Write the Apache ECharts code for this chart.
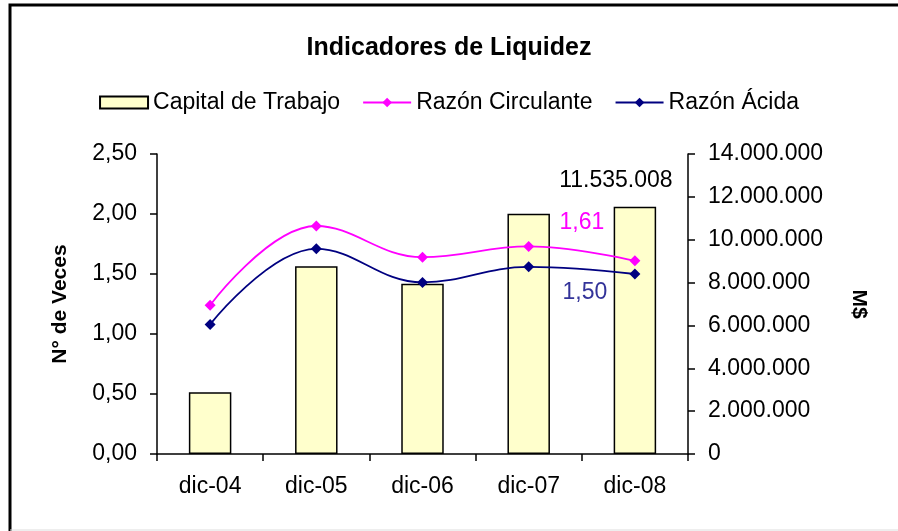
<!DOCTYPE html>
<html>
<head>
<meta charset="utf-8">
<script src="https://cdn.jsdelivr.net/npm/echarts@6/dist/echarts.min.js"></script>
<style>
  html, body { margin: 0; padding: 0; background: #fff; }
  #main { width: 898px; height: 531px; }
</style>
</head>
<body>
<div id="main"></div>
<script>
// datos del grafico
const periodos = ['dic-04', 'dic-05', 'dic-06', 'dic-07', 'dic-08'];
const capitalTrabajo = [2880000, 8760000, 7950000, 11210000, 11535008];
const razonCirculante = [1.24, 1.90, 1.64, 1.73, 1.61];
const razonAcida = [1.08, 1.71, 1.43, 1.56, 1.50];
const ticksVeces = [0, 0.5, 1, 1.5, 2, 2.5];
const ticksPesos = [0, 2000000, 4000000, 6000000, 8000000, 10000000, 12000000, 14000000];

const fuente = '"Liberation Sans", Arial, sans-serif';
const tam = 23;

function fmtComa(v) {
  return v.toFixed(2).replace('.', ',');
}
function fmtMiles(v) {
  return String(Math.round(v)).replace(/\B(?=(\d{3})+(?!\d))/g, '.');
}

let chart = echarts.init(document.getElementById('main'), null, { renderer: 'canvas' });

// solo el ultimo punto lleva etiqueta
let barData = capitalTrabajo.map(function (v, i) {
  if (i === capitalTrabajo.length - 1) {
    return {
      value: v,
      label: {
        show: true, position: 'top', offset: [-19, -10],
        formatter: function (p) { return fmtMiles(p.value); },
        color: '#000', fontSize: tam, fontFamily: fuente
      }
    };
  }
  return v;
});
let circData = razonCirculante.map(function (v, i) {
  if (i === razonCirculante.length - 1) {
    return {
      value: v,
      label: {
        show: true, position: 'top', offset: [-53, -16],
        formatter: function (p) { return fmtComa(p.value); },
        color: '#FF00FF', fontSize: tam, fontFamily: fuente
      }
    };
  }
  return v;
});
let acidData = razonAcida.map(function (v, i) {
  if (i === razonAcida.length - 1) {
    return {
      value: v,
      label: {
        show: true, position: 'bottom', offset: [-50, -3],
        formatter: function (p) { return fmtComa(p.value); },
        color: '#333399', fontSize: tam, fontFamily: fuente
      }
    };
  }
  return v;
});

let option = {
  backgroundColor: '#fff',
  animation: false,
  textStyle: { fontFamily: fuente },
  title: {
    text: 'Indicadores de Liquidez',
    left: 'center',
    top: 31,
    textStyle: { fontSize: 25, fontWeight: 'bold', color: '#000', fontFamily: fuente }
  },
  legend: {
    top: 86,
    left: 'center',
    itemWidth: 48,
    itemHeight: 12,
    itemGap: 22,
    textStyle: { fontSize: tam, color: '#000', fontFamily: fuente },
    data: [
      { name: 'Capital de Trabajo', icon: 'rect' },
      'Razón Circulante',
      'Razón Ácida'
    ]
  },
  grid: {
    left: 157,
    right: 210,
    top: 154,
    bottom: 77,
    containLabel: false
  },
  xAxis: {
    type: 'category',
    data: periodos,
    boundaryGap: true,
    axisLine: { lineStyle: { color: '#000', width: 1.5 } },
    axisTick: { show: true, length: 7, lineStyle: { color: '#000', width: 1.5 } },
    axisLabel: { margin: 21, fontSize: tam, color: '#000', fontFamily: fuente }
  },
  yAxis: [
    {
      type: 'value',
      min: ticksVeces[0],
      max: ticksVeces[ticksVeces.length - 1],
      interval: 0.5,
      name: 'N° de Veces',
      nameLocation: 'middle',
      nameGap: 86,
      nameTextStyle: { fontSize: 21, fontWeight: 'bold', color: '#000', fontFamily: fuente },
      axisLine: { show: true, lineStyle: { color: '#000', width: 1.5 } },
      axisTick: { show: true, length: 7, lineStyle: { color: '#000', width: 1.5 } },
      splitLine: { show: false },
      axisLabel: {
        margin: 20, fontSize: tam, color: '#000', fontFamily: fuente,
        formatter: fmtComa
      }
    },
    {
      type: 'value',
      min: ticksPesos[0],
      max: ticksPesos[ticksPesos.length - 1],
      interval: 2000000,
      name: 'M$',
      nameLocation: 'middle',
      nameRotate: -90,
      nameGap: 160,
      nameTextStyle: { fontSize: 21, fontWeight: 'bold', color: '#000', fontFamily: fuente },
      axisLine: { show: true, lineStyle: { color: '#000', width: 1.5 } },
      axisTick: { show: true, length: 7, lineStyle: { color: '#000', width: 1.5 } },
      splitLine: { show: false },
      axisLabel: {
        margin: 20, fontSize: tam, color: '#000', fontFamily: fuente,
        formatter: fmtMiles
      }
    }
  ],
  series: [
    {
      name: 'Capital de Trabajo',
      type: 'bar',
      yAxisIndex: 1,
      barWidth: '40%',
      data: barData,
      itemStyle: { color: '#FFFFCC', borderColor: '#000', borderWidth: 1.5 }
    },
    {
      name: 'Razón Circulante',
      type: 'line',
      yAxisIndex: 0,
      smooth: 0.4,
      symbol: 'diamond',
      symbolSize: 11,
      data: circData,
      lineStyle: { color: '#FF00FF', width: 1.8 },
      itemStyle: { color: '#FF00FF' }
    },
    {
      name: 'Razón Ácida',
      type: 'line',
      yAxisIndex: 0,
      smooth: 0.4,
      symbol: 'diamond',
      symbolSize: 11,
      data: acidData,
      lineStyle: { color: '#000080', width: 1.8 },
      itemStyle: { color: '#000080' }
    }
  ],
  graphic: [
    {
      type: 'polyline',
      silent: true,
      shape: { points: [[10, 531], [10, 5], [898, 5]] },
      style: { stroke: '#000', lineWidth: 3, fill: null }
    },
    {
      type: 'line',
      silent: true,
      shape: { x1: 10, y1: 530, x2: 898, y2: 530 },
      style: { stroke: '#ddd', lineWidth: 1 }
    }
  ]
};

chart.setOption(option);
</script>
</body>
</html>
